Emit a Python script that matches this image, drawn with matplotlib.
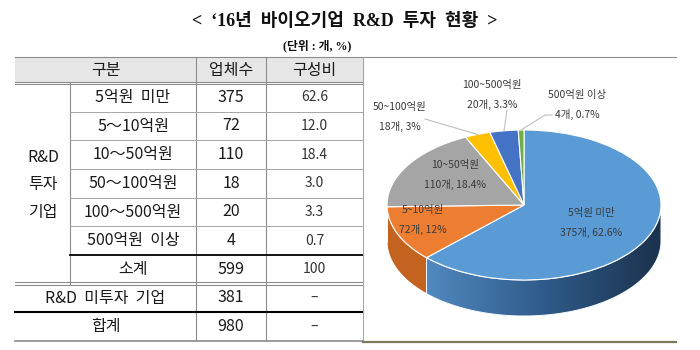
import numpy as np
import matplotlib
matplotlib.use('Agg')
import matplotlib.pyplot as plt
from matplotlib.colors import LinearSegmentedColormap
from matplotlib.patches import Polygon, Rectangle

plt.rcParams['font.family'] = ['Noto Sans CJK KR', 'DejaVu Sans']

# 데이터
table_labels = ['5억원  미만', '5～10억원', '10～50억원', '50～100억원', '100～500억원', '500억원  이상']
pie_names = ['5억원 미만', '5~10억원', '10~50억원', '50~100억원', '100~500억원', '500억원 이상']
counts = [375, 72, 110, 18, 20, 4]
shares = [62.6, 12.0, 18.4, 3.0, 3.3, 0.7]
subtotal, subtotal_share = 599, 100
no_rnd = 381
total = 980
colors = ['#5b9bd5', '#ed7d31', '#a5a5a5', '#ffc000', '#4472c4', '#70ad47']
side_colors = ['#3a6a9a', '#c4621f', '#8a8a8a', '#d9a300', '#35599a', '#5a8c39']

W, H = 700, 350
fig = plt.figure(figsize=(7, 3.5), dpi=100)
base = fig.add_axes([0, 0, 1, 1])
base.set_xlim(0, W)
base.set_ylim(H, 0)
base.axis('off')

# 제목
serif_kr = ['Liberation Serif', 'Noto Sans CJK KR']
base.text(345, 21, '<  \u201816년  바이오기업  R&D  투자  현황  >', ha='center', va='center',
          fontsize=13, fontweight='bold', family=serif_kr, color='#111111')
base.text(317, 46, '(단위 : 개, %)', ha='center', va='center',
          fontsize=8.5, fontweight='bold', family=serif_kr, color='#111111')

# 표
x0, x1, x2, x3, x4 = 15, 70, 196, 266, 363
top = 57
b = np.linspace(83, 341, 10)
gray = '#8c8c8c'
txt = dict(ha='center', va='center', color='#1a1a1a', fontsize=11.5)
small = dict(ha='center', va='center', color='#333333', fontsize=10)

base.add_patch(Rectangle((x0, top), x4 - x0, b[0] - top, color='#e6e6e6', lw=0))
base.text((x0 + x2) / 2, (top + b[0]) / 2, '구분', **txt)
base.text((x2 + x3) / 2, (top + b[0]) / 2, '업체수', **txt)
base.text((x3 + x4) / 2, (top + b[0]) / 2, '구성비', **txt)

for i, (lab, c, s) in enumerate(zip(table_labels, counts, shares)):
    yc = (b[i] + b[i + 1]) / 2
    base.text((x1 + x2) / 2, yc, lab, **txt)
    base.text((x2 + x3) / 2, yc, str(c), **txt)
    base.text((x3 + x4) / 2, yc, f'{s:.1f}', **small)

for k, word in enumerate(['R&D', '투자', '기업']):
    base.text(43, 157 + 28 * k, word, **txt)

yc = (b[6] + b[7]) / 2
base.text((x1 + x2) / 2, yc, '소계', **txt)
base.text((x2 + x3) / 2, yc, str(subtotal), **txt)
base.text((x3 + x4) / 2, yc, str(subtotal_share), **small)
yc = (b[7] + b[8]) / 2
base.text((x0 + x2) / 2, yc, 'R&D  미투자  기업', **txt)
base.text((x2 + x3) / 2, yc, str(no_rnd), **txt)
base.text((x3 + x4) / 2, yc, '–', **small)
yc = (b[8] + b[9]) / 2
base.text((x0 + x2) / 2, yc, '합계', **txt)
base.text((x2 + x3) / 2, yc, str(total), **txt)
base.text((x3 + x4) / 2, yc, '–', **small)

# 선
base.plot([x0, 676], [top, top], color=gray, lw=0.8)
for y in (b[0] - 1.2, b[0] + 1.2):
    base.plot([x0, x4], [y, y], color=gray, lw=0.8)
base.plot([x1, x1], [b[0], b[7]], color=gray, lw=0.8)
for x in (x2, x3):
    base.plot([x, x], [top, b[9]], color=gray, lw=0.8)
for y in b[1:6]:
    base.plot([x1, x4], [y, y], color='#a6a6a6', lw=0.7)
base.plot([x1, x4], [b[6], b[6]], color='black', lw=1.3)
for y in (b[7] - 1.2, b[7] + 1.2):
    base.plot([x0, x4], [y, y], color=gray, lw=0.8)
base.plot([x0, x4], [b[8], b[8]], color='black', lw=1.5)
base.plot([x0, x4], [b[9], b[9]], color=gray, lw=1.2)

# 파이 패널 테두리
pl, pr, pt, pb = 363, 676, 57, 342
base.plot([pl, pl], [pt, pb], color='#a6a6a6', lw=0.8)
base.plot([pl, pr], [pb, pb], color='#7d785a', lw=1.6)

# 3D 느낌의 파이
CX, CY, RX, RY = 524, 205, 137, 75
DEPTH = 36 / RY


def to_data(x, y):
    return (x - CX) / RX, (CY - y) / RY


pax = fig.add_axes([pl / W, 1 - pb / H, (pr - pl) / W, (pb - pt) / H])
wedges, _ = pax.pie(counts, colors=colors, startangle=90, counterclock=False,
                    wedgeprops=dict(edgecolor='white', linewidth=0.8, zorder=3))

side_cmap = LinearSegmentedColormap.from_list('side', ['#5189c0', '#2f5b8a', '#1c324d'])
for i, w in enumerate(wedges):
    t = np.radians(np.linspace(w.theta1, w.theta2, 400))
    t = t[np.sin(t) <= 1e-9]
    if len(t) < 2:
        continue
    xs, ys = np.cos(t), np.sin(t)
    verts = np.r_[np.c_[xs, ys], np.c_[xs[::-1], ys[::-1] - DEPTH]]
    poly = Polygon(verts, closed=True, facecolor=side_colors[i], lw=0, zorder=1)
    pax.add_patch(poly)
    if i == 0:
        grad = np.linspace(0, 1, 256)[None, :]
        im = pax.imshow(grad, extent=(xs.min(), xs.max(), -1 - DEPTH, 0), cmap=side_cmap,
                        aspect='auto', zorder=1.5, interpolation='bilinear')
        im.set_clip_path(poly)
    pax.add_patch(Polygon(verts, closed=True, fill=False, edgecolor='white', lw=0.7, zorder=1.6))

# 라벨
label_px = [(591, 213), (423, 210), (455, 165), (400, 107), (492, 85), (577, 95)]
ptxt = dict(ha='center', va='center', color='#3a3a3a', fontsize=7.5, fontweight='medium')
for (lx, ly), name, c, s in zip(label_px, pie_names, counts, shares):
    pax.text(*to_data(lx, ly), name, **ptxt)
    pax.text(*to_data(lx, ly + 19), f'{c}개, {s:g}%', **ptxt)

# 지시선
leader_px = {3: [(425, 119)], 4: [(507, 110)], 5: [(552, 115), (545, 115)]}
for i, pts in leader_px.items():
    w = wedges[i]
    mid = np.radians((w.theta1 + w.theta2) / 2)
    p = [to_data(x, y) for x, y in pts] + [(np.cos(mid), np.sin(mid))]
    p = np.array(p)
    pax.plot(p[:, 0], p[:, 1], color='#bfbfbf', lw=0.8, zorder=4)

pax.set_aspect('auto')
pax.set_xlim((pl - CX) / RX, (pr - CX) / RX)
pax.set_ylim((CY - pb) / RY, (CY - pt) / RY)
pax.axis('off')

fig.savefig('out.png', dpi=100)
